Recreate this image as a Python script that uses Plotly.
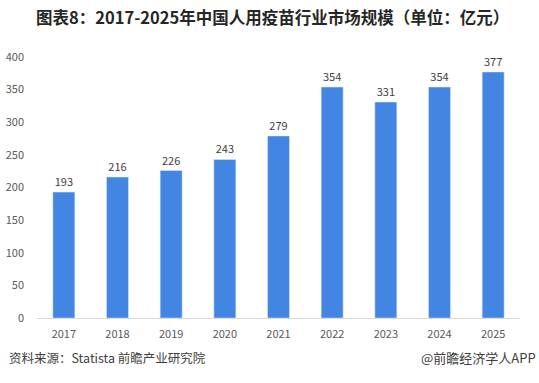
import plotly.graph_objects as go

years = ["2017", "2018", "2019", "2020", "2021", "2022", "2023", "2024", "2025"]
values = [193, 216, 226, 243, 279, 354, 331, 354, 377]
y_ticks = [0, 50, 100, 150, 200, 250, 300, 350, 400]

title_text = "图表8：2017-2025年中国人用疫苗行业市场规模（单位：亿元）"
source_text = "资料来源：Statista 前瞻产业研究院"
brand_text = "@前瞻经济学人APP"

FONT = "Noto Sans CJK SC, Microsoft YaHei, sans-serif"

fig = go.Figure(
    go.Bar(
        x=years,
        y=values,
        marker_color="#4285E3",
        text=[str(v) for v in values],
        textposition="outside",
        textfont=dict(color="#404040", size=11, family=FONT),
        cliponaxis=False,
        hoverinfo="skip",
    )
)

fig.update_layout(
    width=539,
    height=383,
    margin=dict(l=37, r=19, t=57, b=65, autoexpand=False),
    paper_bgcolor="white",
    plot_bgcolor="white",
    bargap=0.59,
    showlegend=False,
    font=dict(family=FONT, color="#595959", size=11),
)

fig.update_yaxes(
    range=[0, 400],
    tickvals=y_ticks,
    showgrid=False,
    zeroline=False,
    showline=False,
    ticks="",
    automargin=False,
    ticklabelstandoff=12,
    tickfont=dict(size=11, color="#595959"),
)
fig.update_xaxes(
    showline=True,
    linecolor="#D9D9D9",
    linewidth=1,
    ticks="",
    automargin=False,
    ticklabelstandoff=6,
    tickfont=dict(size=11, color="#595959"),
)

fig.add_annotation(
    text="<b>" + title_text + "</b>",
    xref="paper", yref="paper", x=0.5, y=0, xanchor="center", yanchor="middle",
    xshift=-6, yshift=318 - 17, showarrow=False,
    font=dict(size=16.5, color="#262626", family=FONT),
)
fig.add_annotation(
    text=source_text,
    xref="paper", yref="paper", x=0, y=0, xanchor="left", yanchor="middle",
    xshift=-30, yshift=318 - 357, showarrow=False,
    font=dict(size=12.5, color="#404040", family=FONT),
)
fig.add_annotation(
    text=brand_text,
    xref="paper", yref="paper", x=1, y=0, xanchor="right", yanchor="middle",
    xshift=18, yshift=318 - 357, showarrow=False,
    font=dict(size=13, color="#404040", family=FONT),
)

fig.write_html(
    "out.html",
    config={"displayModeBar": False},
    post_script="document.body.style.margin='0';",
)
